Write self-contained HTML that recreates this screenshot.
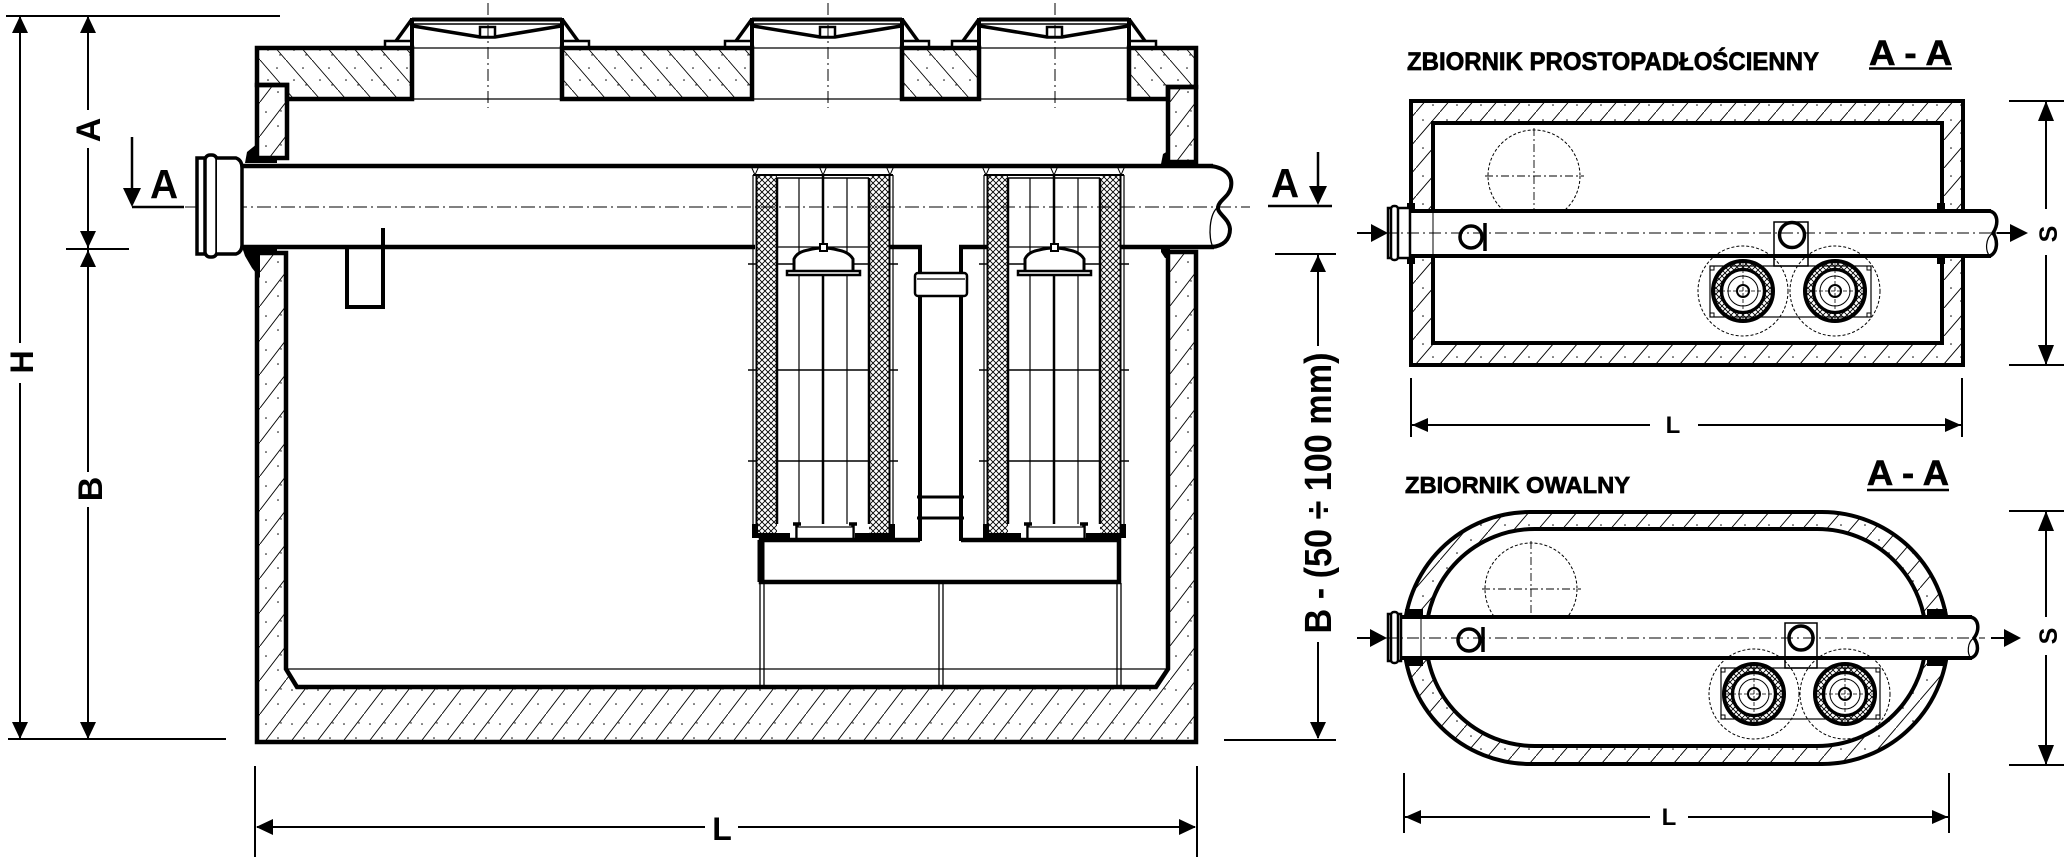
<!DOCTYPE html>
<html><head><meta charset="utf-8">
<style>
html,body{margin:0;padding:0;background:#fff;}
svg{display:block;}
text{font-family:"Liberation Sans",Arial,sans-serif;font-weight:bold;fill:#000;}
</style></head><body>
<svg width="2070" height="863" viewBox="0 0 2070 863" xmlns="http://www.w3.org/2000/svg" xmlns:xlink="http://www.w3.org/1999/xlink">
<defs>
<pattern id="hb" patternUnits="userSpaceOnUse" width="26" height="30">
<path d="M0,0 L26,30" stroke="#000" stroke-width="0.9" fill="none"/>
<circle cx="17" cy="8" r="0.8"/><circle cx="8" cy="20" r="0.8"/><circle cx="20" cy="25" r="0.7"/>
</pattern>
<pattern id="hf" patternUnits="userSpaceOnUse" width="26" height="34">
<path d="M0,34 L26,0" stroke="#000" stroke-width="0.9" fill="none"/>
<circle cx="6" cy="10" r="0.8"/><circle cx="18" cy="24" r="0.8"/><circle cx="21" cy="9" r="0.7"/>
</pattern>
<pattern id="hp" patternUnits="userSpaceOnUse" width="24" height="28">
<path d="M0,28 L24,0" stroke="#000" stroke-width="0.9" fill="none"/>
<circle cx="7" cy="8" r="0.8"/><circle cx="17" cy="21" r="0.8"/>
</pattern>
<pattern id="xh" patternUnits="userSpaceOnUse" width="6" height="6">
<path d="M0,0 L6,6 M6,0 L0,6" stroke="#000" stroke-width="0.9" fill="none"/>
</pattern>

<g id="mh" stroke="#000" fill="none">
<line x1="412" y1="19.5" x2="562" y2="19.5" stroke-width="4"/>
<line x1="412" y1="24" x2="562" y2="24" stroke-width="1.5"/>
<line x1="412" y1="19" x2="396" y2="41" stroke-width="3.5"/>
<line x1="562" y1="19" x2="578" y2="41" stroke-width="3.5"/>
<rect x="385" y="41" width="27" height="6" stroke-width="2.5" fill="#fff"/>
<rect x="562" y="41" width="27" height="6" stroke-width="2.5" fill="#fff"/>
<line x1="412" y1="18" x2="412" y2="48" stroke-width="4"/>
<line x1="562" y1="18" x2="562" y2="48" stroke-width="4"/>
<polyline points="413,26 480,37 495,37 561,26" stroke-width="3.5"/>
<rect x="480" y="27" width="15" height="10" stroke-width="2.5" fill="#fff"/>
<line x1="412" y1="48" x2="562" y2="48" stroke-width="1.3"/>
<line x1="412" y1="99" x2="562" y2="99" stroke-width="1.3"/>
<line x1="488" y1="3" x2="488" y2="108" stroke-width="1" stroke-dasharray="12 4 2 4"/>
</g>

<g id="f1">
<rect x="757" y="175" width="20" height="358" fill="url(#xh)"/>
<rect x="869" y="175" width="20" height="358" fill="url(#xh)"/>
<g stroke="#000" fill="none">
<line x1="753" y1="175" x2="753" y2="533" stroke-width="1.2"/>
<line x1="756.5" y1="175" x2="756.5" y2="533" stroke-width="2"/>
<line x1="777" y1="178" x2="777" y2="524" stroke-width="2.5"/>
<line x1="869" y1="178" x2="869" y2="524" stroke-width="2.5"/>
<line x1="889.5" y1="175" x2="889.5" y2="533" stroke-width="2"/>
<line x1="893" y1="175" x2="893" y2="533" stroke-width="1.2"/>
<line x1="753" y1="175" x2="893" y2="175" stroke-width="2"/>
<line x1="777" y1="178" x2="869" y2="178" stroke-width="1.5"/>
<line x1="799" y1="178" x2="799" y2="524" stroke-width="1.2"/>
<line x1="847" y1="178" x2="847" y2="524" stroke-width="1.2"/>
<line x1="823" y1="175" x2="823" y2="246" stroke-width="2.5"/>
<line x1="823" y1="275" x2="823" y2="524" stroke-width="2.5"/>
<line x1="777" y1="247" x2="869" y2="247" stroke-width="1.3"/>
<line x1="777" y1="264" x2="869" y2="264" stroke-width="1.5"/>
<line x1="777" y1="370" x2="869" y2="370" stroke-width="1.5"/>
<line x1="777" y1="461" x2="869" y2="461" stroke-width="1.5"/>
<path d="M748,264 H757 M889,264 H898 M748,370 H757 M889,370 H898 M748,461 H757 M889,461 H898" stroke-width="1.5"/>
<polyline points="751,166 755,175 759,166" stroke-width="1"/>
<polyline points="819,166 823,175 827,166" stroke-width="1"/>
<polyline points="886,166 890,175 894,166" stroke-width="1"/>
<path d="M794,272 V259 Q797,252 808,250 Q823,246 838,250 Q849,252 853,259 V272" stroke-width="3" fill="#fff"/>
<rect x="787" y="271" width="73" height="4" stroke-width="2.5" fill="#fff"/>
<rect x="820" y="244" width="7" height="7" stroke-width="2" fill="#fff"/>
<path d="M793,524 H801 M797,524 V540 M849,524 H857 M853,524 V540" stroke-width="3.5"/>
<rect x="797" y="527" width="56" height="13" stroke-width="1.2" fill="#fff"/>
</g>
<path d="M752,524 H758 V533 H790 V538 H752 Z" fill="#000"/>
<path d="M855,533 H889 V524 H895 V538 H855 Z" fill="#000"/>
</g>

<g id="fc" stroke="#000" fill="none">
<circle r="45" stroke-width="1" stroke-dasharray="3 2"/>
<circle r="26" stroke="url(#xh)" stroke-width="9"/>
<circle r="30" stroke-width="4"/>
<circle r="21.5" stroke-width="3.3"/>
<circle r="15" stroke-width="1"/>
<circle r="6" stroke-width="2"/>
<path d="M-28,0 H28 M0,-28 V28" stroke-width="0.8" stroke-dasharray="4 2"/>
</g>
</defs>

<!-- ===== LEFT DIMENSIONS ===== -->
<g stroke="#000" stroke-width="2" fill="none">
<line x1="6" y1="16" x2="280" y2="16"/>
<line x1="20" y1="16" x2="20" y2="343"/>
<line x1="20" y1="383" x2="20" y2="739"/>
<line x1="88" y1="16" x2="88" y2="110"/>
<line x1="88" y1="148" x2="88" y2="472"/>
<line x1="88" y1="507" x2="88" y2="739"/>
<line x1="66" y1="249" x2="129" y2="249"/>
<line x1="8" y1="739" x2="226" y2="739"/>
</g>
<g fill="#000">
<polygon points="20,16 12,33 28,33"/>
<polygon points="20,739 12,722 28,722"/>
<polygon points="88,16 80,33 96,33"/>
<polygon points="88,248 80,231 96,231"/>
<polygon points="88,250 80,267 96,267"/>
<polygon points="88,739 80,722 96,722"/>
</g>
<text transform="translate(33,362) rotate(-90)" text-anchor="middle" font-size="32">H</text>
<text transform="translate(100,130) rotate(-90)" text-anchor="middle" font-size="34">A</text>
<text transform="translate(102,489) rotate(-90)" text-anchor="middle" font-size="34">B</text>

<!-- section arrows -->
<g stroke="#000" stroke-width="2.5" fill="none">
<line x1="132" y1="137" x2="132" y2="192"/>
<line x1="132" y1="207" x2="184" y2="207"/>
<line x1="1318" y1="152" x2="1318" y2="190"/>
<line x1="1268" y1="206" x2="1332" y2="206"/>
</g>
<polygon points="132,207 123,188 141,188" fill="#000"/>
<polygon points="1318,205 1309,186 1327,186" fill="#000"/>
<text transform="translate(150,198) scale(0.95,1)" font-size="41">A</text>
<text transform="translate(1271,197) scale(0.95,1)" font-size="41">A</text>

<!-- ===== TANK ===== -->
<g fill="url(#hb)">
<path d="M257,48 H412 V99 H287 V85 H257 Z"/>
<path d="M562,48 H752 V99 H562 Z"/>
<path d="M902,48 H979 V99 H902 Z"/>
<path d="M1129,48 H1196 V87 H1168 V99 H1129 Z"/>
</g>
<g fill="url(#hf)">
<rect x="257" y="85" width="30" height="73"/>
<rect x="1168" y="87" width="28" height="75"/>
<path d="M257,253 V742 H1196 V252 H1168 V669 L1156,687 H297 L286,669 V253 Z"/>
</g>
<g stroke="#000" stroke-width="4.5" fill="none" stroke-linejoin="miter">
<path d="M257,48 H412 V99 H287 V85 H257 Z"/>
<path d="M562,48 H752 V99 H562 Z"/>
<path d="M902,48 H979 V99 H902 Z"/>
<path d="M1129,48 H1196 V87 H1168 V99 H1129 Z"/>
<rect x="257" y="85" width="30" height="73"/>
<rect x="1168" y="87" width="28" height="75"/>
<path d="M257,253 V742 H1196 V252 H1168 V669 L1156,687 H297 L286,669 V253 Z"/>
</g>
<line x1="286" y1="669" x2="1168" y2="669" stroke="#000" stroke-width="1.3"/>

<use xlink:href="#mh" href="#mh"/>
<use xlink:href="#mh" href="#mh" x="340"/>
<use xlink:href="#mh" href="#mh" x="567"/>

<!-- pipe -->
<rect x="240" y="166" width="976" height="81" fill="#fff"/>
<g stroke="#000" fill="none">
<line x1="241" y1="166" x2="1213" y2="166" stroke-width="4.5"/>
<line x1="241" y1="247" x2="755" y2="247" stroke-width="4.5"/>
<line x1="890" y1="247" x2="922" y2="247" stroke-width="4.5"/>
<line x1="959" y1="247" x2="987" y2="247" stroke-width="4.5"/>
<line x1="1121" y1="247" x2="1214" y2="247" stroke-width="4.5"/>
<path d="M1211,166 C1226,168 1233,176 1231,187 C1229,197 1219,200 1218,207 C1217,214 1229,218 1230,229 C1230,240 1223,246 1212,247" stroke-width="4"/>
<path d="M1218,207 C1209,214 1208,238 1213,247" stroke-width="1.3"/>
<line x1="185" y1="207" x2="1250" y2="207" stroke-width="1" stroke-dasharray="14 4 2 4"/>
<rect x="197" y="158" width="10" height="96" stroke-width="3.5" fill="#fff"/>
<rect x="205" y="155" width="12" height="102" rx="5" stroke-width="3.5" fill="#fff"/>
<path d="M217,158 H236 Q242,160 242,168 V245 Q242,252 236,254 H217" stroke-width="3.5" fill="#fff"/>
<path d="M347,247 V307 H383 V228" stroke-width="4"/>
</g>
<g fill="#000">
<polygon points="245,163 247,152 258,143 258,157 277,157 277,163"/>
<polygon points="242,247 277,247 277,253 260,253 260,278 252,268 245,256"/>
<polygon points="1161,164 1163,154 1168,151 1170,151 1170,166 1161,166"/>
<polygon points="1161,247 1170,247 1170,258 1165,258 1161,252"/>
</g>

<!-- filters -->
<use xlink:href="#f1" href="#f1"/>
<use xlink:href="#f1" href="#f1" x="231"/>

<!-- riser & base -->
<g stroke="#000" fill="none">
<line x1="920" y1="245" x2="920" y2="541" stroke-width="4"/>
<line x1="961" y1="245" x2="961" y2="541" stroke-width="4"/>
<rect x="915" y="273" width="52" height="23" rx="3" stroke-width="2.5" fill="#fff"/>
<line x1="917" y1="279" x2="965" y2="279" stroke-width="1.2"/>
<line x1="917" y1="497" x2="964" y2="497" stroke-width="3"/>
<line x1="917" y1="518" x2="964" y2="518" stroke-width="3"/>
<path d="M920,540 H761 V582 H1119 V540 H961" stroke-width="4.5"/>
<line x1="761" y1="540" x2="761" y2="582" stroke-width="7"/>
<path d="M760,583 V686 M764,583 V686 M939,583 V686 M943,583 V686 M1117,583 V686 M1121,583 V686" stroke-width="1.3"/>
</g>

<!-- L dimension main -->
<g stroke="#000" stroke-width="2" fill="none">
<line x1="255" y1="766" x2="255" y2="857"/>
<line x1="1197" y1="766" x2="1197" y2="857"/>
<line x1="257" y1="827" x2="705" y2="827"/>
<line x1="738" y1="827" x2="1195" y2="827"/>
</g>
<polygon points="256,827 273,819 273,835" fill="#000"/>
<polygon points="1196,827 1179,819 1179,835" fill="#000"/>
<text x="722" y="840" text-anchor="middle" font-size="32">L</text>

<!-- B-(50÷100 mm) dimension -->
<g stroke="#000" stroke-width="2" fill="none">
<line x1="1275" y1="254" x2="1336" y2="254"/>
<line x1="1224" y1="740" x2="1336" y2="740"/>
<line x1="1318" y1="254" x2="1318" y2="346"/>
<line x1="1318" y1="642" x2="1318" y2="738"/>
</g>
<polygon points="1318,255 1310,272 1326,272" fill="#000"/>
<polygon points="1318,739 1310,722 1326,722" fill="#000"/>
<text transform="translate(1331,493) rotate(-90)" text-anchor="middle" font-size="38" textLength="281" lengthAdjust="spacingAndGlyphs">B - (50 ÷ 100 mm)</text>

<!-- ===== RECT PLAN ===== -->
<text x="1407" y="70" font-size="25" textLength="412" lengthAdjust="spacingAndGlyphs" stroke="#000" stroke-width="0.7">ZBIORNIK PROSTOPADŁOŚCIENNY</text>
<text x="1869" y="65" font-size="35" textLength="83" lengthAdjust="spacingAndGlyphs" stroke="#000" stroke-width="0.6">A - A</text>
<line x1="1869" y1="68.5" x2="1952" y2="68.5" stroke="#000" stroke-width="2.5"/>

<path d="M1411,101 H1963 V365 H1411 Z M1433,123 V343 H1942 V123 Z" fill="url(#hp)" fill-rule="evenodd"/>
<rect x="1411" y="101" width="552" height="264" fill="none" stroke="#000" stroke-width="4"/>
<rect x="1433" y="123" width="509" height="220" fill="none" stroke="#000" stroke-width="4"/>

<circle cx="1534" cy="176" r="46" fill="none" stroke="#000" stroke-width="1" stroke-dasharray="3 2"/>
<path d="M1485,176 H1584 M1534,128 V227" stroke="#000" stroke-width="0.9" stroke-dasharray="8 3 2 3"/>

<rect x="1402" y="211" width="592" height="45" fill="#fff"/>
<g fill="#000">
<rect x="1407" y="203" width="8" height="9"/><rect x="1407" y="255" width="8" height="9"/>
<rect x="1937" y="203" width="8" height="9"/><rect x="1937" y="255" width="8" height="9"/>
</g>
<g stroke="#000" fill="none">
<line x1="1408" y1="211" x2="1991" y2="211" stroke-width="4"/>
<line x1="1408" y1="256" x2="1991" y2="256" stroke-width="4"/>
<path d="M1989,211 C1998,212 1999,224 1993,233 C1998,240 1998,252 1990,256" stroke-width="3.5"/>
<path d="M1993,233 C1985,238 1985,252 1990,256" stroke-width="1.2"/>
<line x1="1433" y1="211" x2="1433" y2="256" stroke-width="1"/>
<rect x="1388" y="208" width="22" height="50" stroke-width="2.5" fill="#fff"/>
<rect x="1391" y="206" width="7" height="54" rx="3" stroke-width="2.5" fill="#fff"/>
<line x1="1385" y1="233" x2="2000" y2="233" stroke-width="1" stroke-dasharray="12 4 2 4"/>
<line x1="1357" y1="233" x2="1375" y2="233" stroke-width="2"/>
<line x1="1997" y1="233" x2="2012" y2="233" stroke-width="2"/>
<circle cx="1471" cy="237" r="11" stroke-width="3.5"/>
<line x1="1485" y1="223" x2="1485" y2="251" stroke-width="3.5"/>
<rect x="1774" y="222" width="34" height="44" stroke-width="1.5"/>
<circle cx="1792" cy="235" r="12.5" stroke-width="3.5"/>
<rect x="1710" y="266" width="161" height="51" stroke-width="1.2"/>
<path d="M1710,266 h4 v4 h-4 M1871,266 h-4 v4 h4 M1710,317 h4 v-4 h-4 M1871,317 h-4 v-4 h4" stroke-width="1"/>
</g>
<polygon points="1388,233 1371,224 1371,242" fill="#000"/>
<polygon points="2028,233 2010,224 2010,242" fill="#000"/>
<use xlink:href="#fc" href="#fc" x="1743" y="291"/>
<use xlink:href="#fc" href="#fc" x="1835" y="291"/>

<g stroke="#000" stroke-width="2" fill="none">
<line x1="2009" y1="101" x2="2064" y2="101"/>
<line x1="2009" y1="365" x2="2064" y2="365"/>
<line x1="2046" y1="101" x2="2046" y2="209"/>
<line x1="2046" y1="255" x2="2046" y2="365"/>
<line x1="1411" y1="378" x2="1411" y2="437"/>
<line x1="1962" y1="378" x2="1962" y2="437"/>
<line x1="1411" y1="425" x2="1650" y2="425"/>
<line x1="1698" y1="425" x2="1962" y2="425"/>
</g>
<g fill="#000">
<polygon points="2046,101 2038,121 2054,121"/>
<polygon points="2046,365 2038,345 2054,345"/>
<polygon points="1412,425 1428,418 1428,432"/>
<polygon points="1961,425 1945,418 1945,432"/>
</g>
<text transform="translate(2057,234) rotate(-90)" text-anchor="middle" font-size="25">S</text>
<text x="1673" y="433" text-anchor="middle" font-size="24">L</text>

<!-- ===== OVAL PLAN ===== -->
<text x="1405" y="493" font-size="23" textLength="225" lengthAdjust="spacingAndGlyphs" stroke="#000" stroke-width="0.7">ZBIORNIK OWALNY</text>
<text x="1867" y="485" font-size="35" textLength="82" lengthAdjust="spacingAndGlyphs" stroke="#000" stroke-width="0.6">A - A</text>
<line x1="1867" y1="490" x2="1949" y2="490" stroke="#000" stroke-width="2.5"/>

<path d="M1530,512 H1822 A126,126 0 0 1 1822,764 H1530 A126,126 0 0 1 1530,512 Z M1534,529 A108.5,108.5 0 0 0 1534,746 H1818 A108.5,108.5 0 0 0 1818,529 Z" fill="url(#hp)" fill-rule="evenodd"/>
<rect x="1404" y="512" width="544" height="252" rx="126" ry="126" fill="none" stroke="#000" stroke-width="4"/>
<rect x="1426" y="529" width="500" height="217" rx="108.5" ry="108.5" fill="none" stroke="#000" stroke-width="4"/>

<circle cx="1531" cy="589" r="46" fill="none" stroke="#000" stroke-width="1" stroke-dasharray="3 2"/>
<path d="M1482,589 H1581 M1531,541 V640" stroke="#000" stroke-width="0.9" stroke-dasharray="8 3 2 3"/>

<rect x="1402" y="617" width="574" height="41" fill="#fff"/>
<g fill="#000">
<rect x="1405" y="609" width="18" height="8"/><rect x="1405" y="658" width="18" height="8"/>
<rect x="1927" y="609" width="20" height="8"/><rect x="1927" y="658" width="20" height="8"/>
</g>
<g stroke="#000" fill="none">
<line x1="1400" y1="617" x2="1972" y2="617" stroke-width="4"/>
<line x1="1400" y1="658" x2="1972" y2="658" stroke-width="4"/>
<path d="M1970,617 C1979,618 1980,630 1974,638 C1979,645 1979,655 1971,658" stroke-width="3.5"/>
<path d="M1974,638 C1967,642 1967,654 1971,658" stroke-width="1.2"/>
<line x1="1421" y1="617" x2="1421" y2="658" stroke-width="1"/>
<rect x="1388" y="614" width="13" height="47" stroke-width="2.5" fill="#fff"/>
<rect x="1391" y="612" width="7" height="51" rx="3" stroke-width="2.5" fill="#fff"/>
<line x1="1385" y1="638" x2="1985" y2="638" stroke-width="1" stroke-dasharray="12 4 2 4"/>
<line x1="1357" y1="638" x2="1373" y2="638" stroke-width="2"/>
<line x1="1991" y1="638" x2="2006" y2="638" stroke-width="2"/>
<circle cx="1469" cy="640" r="11" stroke-width="3.5"/>
<line x1="1483" y1="627" x2="1483" y2="652" stroke-width="3.5"/>
<rect x="1785" y="623" width="32" height="45" stroke-width="1.5"/>
<circle cx="1801" cy="638" r="12" stroke-width="3.5"/>
<rect x="1721" y="668" width="159" height="51" stroke-width="1.2"/>
<path d="M1721,668 h4 v4 h-4 M1880,668 h-4 v4 h4 M1721,719 h4 v-4 h-4 M1880,719 h-4 v-4 h4" stroke-width="1"/>
</g>
<polygon points="1387,638 1370,629 1370,647" fill="#000"/>
<polygon points="2021,638 2004,629 2004,647" fill="#000"/>
<use xlink:href="#fc" href="#fc" x="1754" y="694"/>
<use xlink:href="#fc" href="#fc" x="1845" y="694"/>

<g stroke="#000" stroke-width="2" fill="none">
<line x1="2009" y1="511" x2="2064" y2="511"/>
<line x1="2009" y1="765" x2="2064" y2="765"/>
<line x1="2046" y1="511" x2="2046" y2="617"/>
<line x1="2046" y1="655" x2="2046" y2="765"/>
<line x1="1404" y1="773" x2="1404" y2="833"/>
<line x1="1949" y1="773" x2="1949" y2="833"/>
<line x1="1404" y1="817" x2="1650" y2="817"/>
<line x1="1688" y1="817" x2="1949" y2="817"/>
</g>
<g fill="#000">
<polygon points="2046,511 2038,531 2054,531"/>
<polygon points="2046,765 2038,745 2054,745"/>
<polygon points="1405,817 1421,810 1421,824"/>
<polygon points="1948,817 1932,810 1932,824"/>
</g>
<text transform="translate(2057,636) rotate(-90)" text-anchor="middle" font-size="25">S</text>
<text x="1669" y="825" text-anchor="middle" font-size="24">L</text>
</svg>
</body></html>
